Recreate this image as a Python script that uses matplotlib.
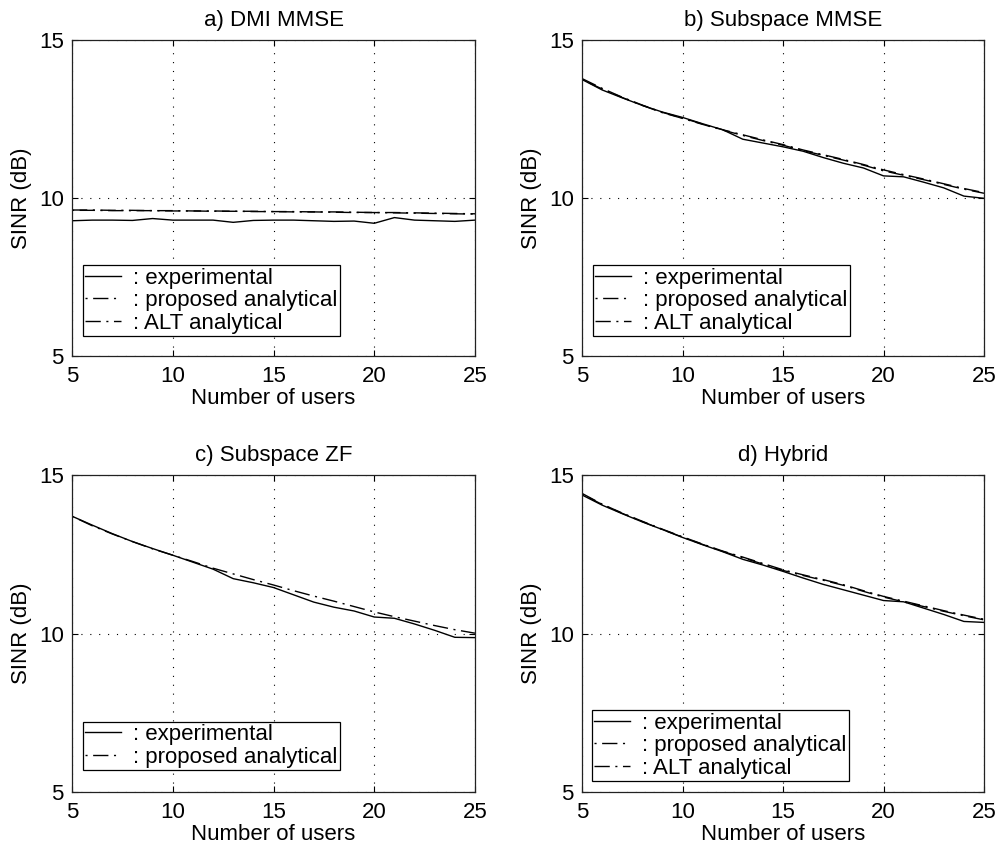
import matplotlib
matplotlib.use("Agg")
from matplotlib import pyplot as plt

plt.rcParams["font.family"] = ["Liberation Sans", "DejaVu Sans"]
plt.rcParams["font.size"] = 16

users = list(range(5, 26))

# a) DMI MMSE
dmi_exp = [9.28, 9.30, 9.30, 9.29, 9.35, 9.30, 9.30, 9.30, 9.23, 9.29, 9.30,
           9.30, 9.28, 9.26, 9.27, 9.20, 9.38, 9.30, 9.28, 9.26, 9.30]
dmi_prop = [9.61, 9.61, 9.60, 9.60, 9.60, 9.59, 9.59, 9.58, 9.58, 9.57, 9.57,
            9.56, 9.56, 9.55, 9.54, 9.54, 9.53, 9.52, 9.51, 9.50, 9.49]
dmi_alt = [9.62, 9.62, 9.61, 9.61, 9.60, 9.60, 9.59, 9.59, 9.58, 9.58, 9.57,
           9.57, 9.56, 9.56, 9.55, 9.54, 9.54, 9.53, 9.52, 9.51, 9.50]

# b) Subspace MMSE
sub_mmse_exp = [13.75, 13.42, 13.17, 12.93, 12.72, 12.55, 12.35, 12.16, 11.86, 11.74, 11.62,
                11.48, 11.28, 11.10, 10.95, 10.70, 10.67, 10.50, 10.32, 10.06, 9.99]
sub_mmse_prop = [13.75, 13.45, 13.18, 12.93, 12.70, 12.52, 12.33, 12.15, 11.98, 11.82, 11.67,
                 11.50, 11.35, 11.20, 11.04, 10.86, 10.72, 10.58, 10.43, 10.28, 10.15]
sub_mmse_alt = [13.78, 13.47, 13.19, 12.94, 12.71, 12.53, 12.34, 12.16, 12.00, 11.84, 11.69,
                11.52, 11.37, 11.22, 11.06, 10.89, 10.74, 10.60, 10.45, 10.30, 10.17]

# c) Subspace ZF
sub_zf_exp = [13.70, 13.42, 13.15, 12.90, 12.68, 12.47, 12.25, 12.03, 11.73, 11.60, 11.45,
              11.22, 10.99, 10.83, 10.71, 10.52, 10.48, 10.30, 10.10, 9.88, 9.87]
sub_zf_prop = [13.70, 13.40, 13.14, 12.90, 12.67, 12.47, 12.27, 12.06, 11.88, 11.70, 11.53,
               11.35, 11.18, 11.02, 10.85, 10.68, 10.53, 10.39, 10.25, 10.12, 10.01]

# d) Hybrid
hyb_exp = [14.37, 14.05, 13.78, 13.52, 13.28, 13.03, 12.80, 12.58, 12.34, 12.16, 11.96,
           11.75, 11.55, 11.38, 11.21, 11.04, 11.00, 10.80, 10.60, 10.38, 10.35]
hyb_prop = [14.40, 14.07, 13.79, 13.53, 13.28, 13.04, 12.81, 12.59, 12.39, 12.19, 11.99,
            11.83, 11.68, 11.52, 11.33, 11.15, 11.00, 10.85, 10.70, 10.56, 10.43]
hyb_alt = [14.42, 14.08, 13.80, 13.54, 13.29, 13.05, 12.82, 12.60, 12.41, 12.21, 12.01,
           11.85, 11.70, 11.54, 11.35, 11.17, 11.02, 10.87, 10.72, 10.58, 10.45]

panels = [
    ("a) DMI MMSE", dmi_exp, dmi_prop, dmi_alt),
    ("b) Subspace MMSE", sub_mmse_exp, sub_mmse_prop, sub_mmse_alt),
    ("c) Subspace ZF", sub_zf_exp, sub_zf_prop, None),
    ("d) Hybrid", hyb_exp, hyb_prop, hyb_alt),
]

# axes boxes in pixels (left, top, right, bottom) and legend offset from the lower-left corner
boxes = [(72, 40, 475, 356), (582, 40, 984, 356),
         (72, 475, 475, 792), (582, 475, 984, 792)]
legend_offsets = [(11, 20), (11, 20), (11, 22), (10, 11)]

W, H = 998, 852
fig = plt.figure(figsize=(W / 100, H / 100), dpi=100)

prop_style = (15, (11, 4, 1.5, 4))
alt_style = (0, (11, 4, 1.5, 4))

for (title, exp, prop, alt), (l, t, r, b), (dx, dy) in zip(panels, boxes, legend_offsets):
    ax = fig.add_axes([l / W, 1 - b / H, (r - l) / W, (b - t) / H])
    ax.plot(users, exp, color="k", lw=1.0, label=": experimental")
    ax.plot(users, prop, color="k", lw=1.0, linestyle=prop_style,
            label=": proposed analytical")
    if alt is not None:
        ax.plot(users, alt, color="k", lw=1.0, linestyle=alt_style,
                label=": ALT analytical")
    ax.set_xlim(5, 25)
    ax.set_ylim(5, 15)
    ax.set_xticks([5, 10, 15, 20, 25])
    ax.set_yticks([5, 10, 15])
    ax.grid(True, linestyle=(0, (1, 7)), color="k", lw=0.8)
    ax.tick_params(direction="in", top=True, right=True, length=4)
    ax.tick_params(axis="x", pad=7)
    ax.tick_params(axis="y", pad=6)
    for s in ax.spines.values():
        s.set_linewidth(0.9)
        s.set_color("#222222")
    ax.set_title(title, fontsize=16, pad=10)
    ax.set_xlabel("Number of users", labelpad=1)
    ax.set_ylabel("SINR (dB)", labelpad=5)
    leg = ax.legend(loc="lower left",
                    bbox_to_anchor=(dx / (r - l), dy / (b - t)),
                    borderaxespad=0, fancybox=False, framealpha=1,
                    edgecolor="k", handlelength=1.6, handletextpad=0.55,
                    labelspacing=0.07, borderpad=0.1, fontsize=16)
    leg.get_frame().set_linewidth(0.9)

fig.savefig("out.png", dpi=100)
